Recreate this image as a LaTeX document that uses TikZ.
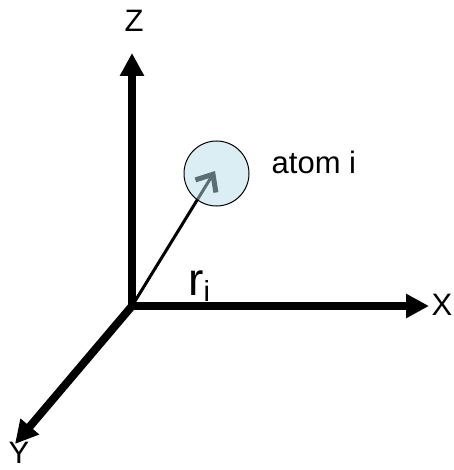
\documentclass[tikz,border=0pt]{standalone}
\usepackage{fontspec}
\setmainfont{Liberation Sans}
\usepackage{xcolor}
\usetikzlibrary{arrows.meta, positioning}

\definecolor{atomfill}{RGB}{181,221,231}

\begin{document}
\begin{tikzpicture}[
    x=1pt, y=-1pt,
    axis/.style={line width=8pt, -{Triangle[length=23pt, width=23pt]}},
    radius arrow/.style={line width=3pt, -{Straight Barb[length=14pt, width=24pt, line width=5pt]}},
    axis label/.style={font=\fontsize{31}{35}\selectfont, inner sep=0pt},
    atom/.style={circle, draw, line width=1pt, fill=atomfill, fill opacity=0.5, draw opacity=1, minimum size=65pt, inner sep=0pt},
]
\useasboundingbox (0,0) rectangle (453,470);

% Origin and axis ends
\coordinate (o) at (132,306);
\coordinate (zend) at (132,53);
\coordinate (xend) at (429,306);
\coordinate (yend) at (15,444);

% Axes
\draw[axis] (o) -- (zend);
\draw[axis] (o) -- (xend);
\draw[axis] (o) -- (yend);

% Axis labels
\node[axis label] (zlabel) at (134,21) {Z};
\node[axis label] (xlabel) at (442,305) {X};
\node[axis label] (ylabel) at (19,453) {Y};

% Position vector to the atom
\coordinate (rtip) at (215,171);
\draw[radius arrow] (o) -- (rtip);

% Atom
\node[atom] (atomi) at (216.5,173.5) {};
\node[axis label, right=22pt of atomi.east, yshift=11pt] (atomlabel) {atom i};

% Vector label
\node[inner sep=0pt, anchor=base west, font=\fontsize{46}{50}\selectfont] (rlabel) at (188,295) {r\raisebox{-6pt}{\fontsize{29}{31}\selectfont i}};

\end{tikzpicture}
\end{document}
